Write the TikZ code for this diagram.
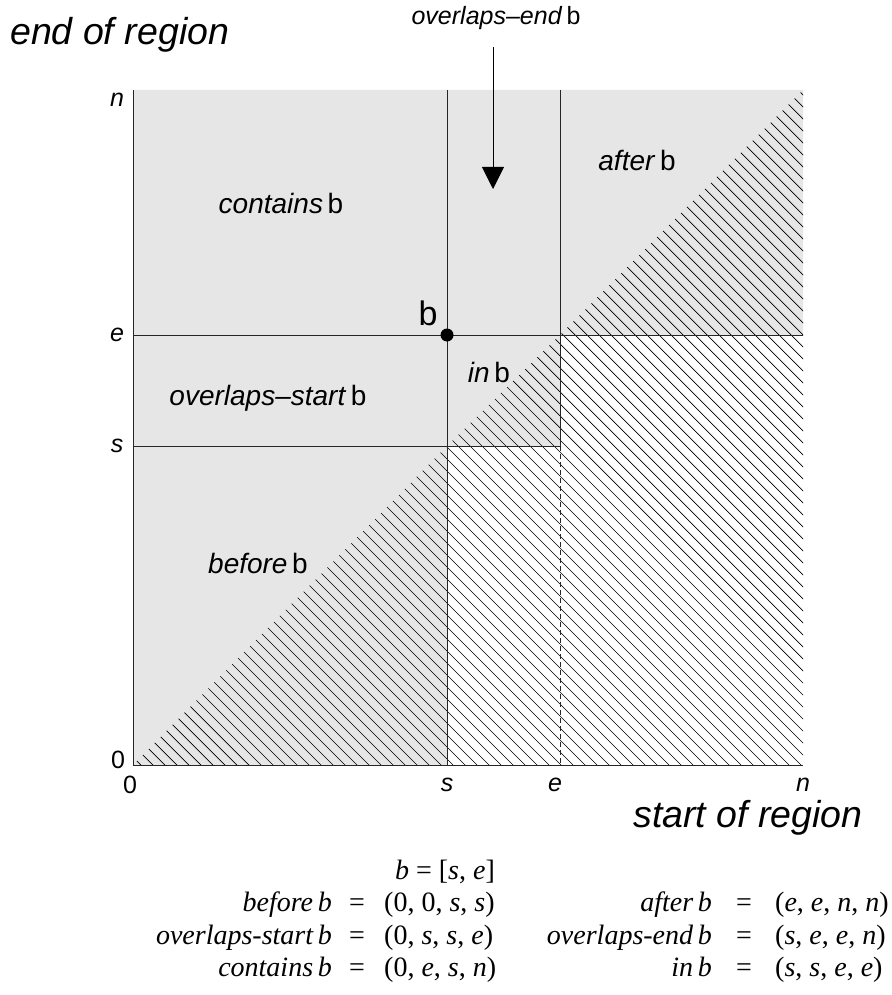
\documentclass[tikz,border=0pt]{standalone}
\usepackage{fontspec}
\setmainfont{Liberation Serif}
\setsansfont{Liberation Sans}
\usetikzlibrary{arrows.meta}
\definecolor{regiongray}{HTML}{E6E6E6}
\tikzset{
  lab/.style={font=\sffamily\fontsize{28}{32}\selectfont, inner sep=0pt},
  toplab/.style={font=\sffamily\fontsize{25}{28}\selectfont, inner sep=0pt},
  axlab/.style={font=\sffamily\fontsize{25}{28}\selectfont, inner sep=0pt},
  biglab/.style={font=\sffamily\itshape\fontsize{37.5}{40}\selectfont, inner sep=0pt},
  eqtext/.style={font=\fontsize{28}{32}\selectfont, inner sep=0pt},
  gridline/.style={line width=0.9pt, draw=black!85},
  hatchline/.style={line width=0.7pt, draw=black},
}
\newcommand{\reglab}[1]{\textit{#1}\,b}
\begin{document}
\begin{tikzpicture}[x=1pt,y=-1pt]
\useasboundingbox (0,0) rectangle (891,995);
% gray regions
\fill[regiongray] (133,765) -- (447,765) -- (447,446) -- (560,446) -- (560,335) -- (803,335) -- (803,90) -- (133,90) -- cycle;
% hatching below the diagonal
\begin{scope}
\clip (133,765) -- (447,446) -- (560,335) -- (803,90) -- (803,765) -- cycle;
\foreach \c in {-648,-636,...,720} \draw[hatchline] (\c,0) -- ({\c+1000},1000);
\end{scope}
% grid lines
\draw[gridline] (133,90) -- (133,765) -- (803,765);
\draw[gridline] (133,335) -- (803,335);
\draw[gridline] (133,446) -- (560,446);
\draw[gridline] (447,90) -- (447,765);
\draw[gridline] (560,90) -- (560,446);
\draw[gridline, dash pattern=on 5pt off 3pt] (560,446) -- (560,765);
% point b
\node[circle, fill=black, inner sep=0pt, minimum size=13pt] (bdot) at (447,335) {};
\node[font=\sffamily\fontsize{34}{38}\selectfont, inner sep=0pt] (blab) at (428,313) {b};
% arrow
\node[toplab] (oend) at (496,18) {\reglab{overlaps--end}};
\coordinate (arrstart) at (493,47);
\coordinate (arrend) at (493,189);
\draw[line width=0.9pt, -{Triangle[length=22pt,width=22pt]}] (arrstart) -- (arrend);
% region labels
\node[lab] (contains) at (281,203) {\reglab{contains}};
\node[lab] (after) at (637,160) {\reglab{after}};
\node[lab] (ostart) at (268,398) {\reglab{overlaps--start}};
\node[lab] (inb) at (489,372) {\reglab{in}};
\node[lab] (before) at (258,563) {\reglab{before}};
% axis titles
\node[biglab, anchor=west] (ytitle) at (10,35) {end of region};
\node[biglab] (xtitle) at (748,818) {start of region};
% axis ticks labels
\node[axlab] (yn) at (117,100) {\textit{n}};
\node[axlab] (ye) at (117,335) {\textit{e}};
\node[axlab] (ys) at (117,446) {\textit{s}};
\node[axlab] (y0) at (118,760) {0};
\node[axlab] (x0) at (130,785) {0};
\node[axlab] (xs) at (447,785) {\textit{s}};
\node[axlab] (xe) at (555,785) {\textit{e}};
\node[axlab] (xn) at (803,785) {\textit{n}};
% equations
\node[eqtext, anchor=base] (bdef) at (445,879) {\textit{b} = [\textit{s}, \textit{e}]};
\node[eqtext, anchor=base east] (l1) at (332,911) {\textit{before\,b}};
\node[eqtext, anchor=base] (q1) at (357,911) {=};
\node[eqtext, anchor=base west] (t1) at (384,911) {(0, 0, \textit{s}, \textit{s})};
\node[eqtext, anchor=base east] (l2) at (332,944) {\textit{overlaps-start\,b}};
\node[eqtext, anchor=base] (q2) at (357,944) {=};
\node[eqtext, anchor=base west] (t2) at (384,944) {(0, \textit{s}, \textit{s}, \textit{e})};
\node[eqtext, anchor=base east] (l3) at (332,976) {\textit{contains\,b}};
\node[eqtext, anchor=base] (q3) at (357,976) {=};
\node[eqtext, anchor=base west] (t3) at (384,976) {(0, \textit{e}, \textit{s}, \textit{n})};
\node[eqtext, anchor=base east] (r1) at (712,911) {\textit{after\,b}};
\node[eqtext, anchor=base] (p1) at (744,911) {=};
\node[eqtext, anchor=base west] (u1) at (775,911) {(\textit{e}, \textit{e}, \textit{n}, \textit{n})};
\node[eqtext, anchor=base east] (r2) at (712,944) {\textit{overlaps-end\,b}};
\node[eqtext, anchor=base] (p2) at (744,944) {=};
\node[eqtext, anchor=base west] (u2) at (775,944) {(\textit{s}, \textit{e}, \textit{e}, \textit{n})};
\node[eqtext, anchor=base east] (r3) at (712,976) {\textit{in\,b}};
\node[eqtext, anchor=base] (p3) at (744,976) {=};
\node[eqtext, anchor=base west] (u3) at (775,976) {(\textit{s}, \textit{s}, \textit{e}, \textit{e})};
\end{tikzpicture}
\end{document}
